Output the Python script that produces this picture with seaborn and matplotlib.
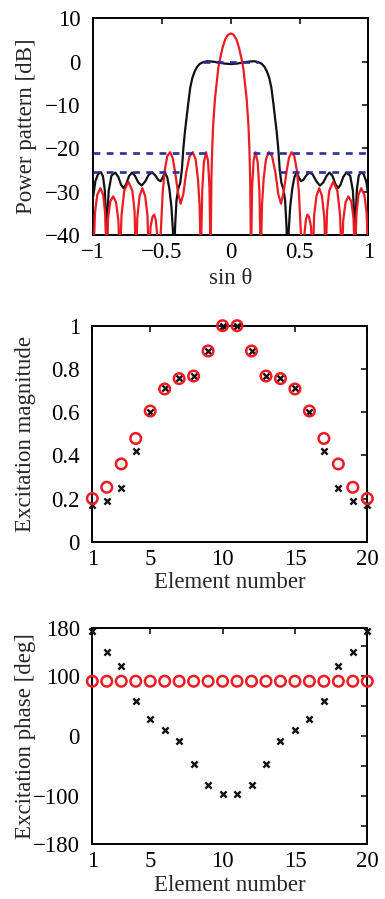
import numpy as np
import pandas as pd
import matplotlib
matplotlib.use("Agg")
import matplotlib.pyplot as plt
import seaborn as sns

# ---------------- data ----------------
# Panel 1: power pattern (sin theta, dB)
black_sin = [-1.000, -0.985, -0.965, -0.945, -0.930, -0.917, -0.909, -0.903, -0.897, -0.888,
             -0.868, -0.840, -0.818, -0.798, -0.780, -0.760, -0.740, -0.718, -0.698, -0.672,
             -0.648, -0.622, -0.595, -0.570, -0.548, -0.527, -0.510, -0.495, -0.480, -0.463,
             -0.447, -0.432, -0.421, -0.413, -0.405, -0.395, -0.382, -0.368, -0.356, -0.345,
             -0.333, -0.320, -0.309, -0.295, -0.280, -0.262, -0.245, -0.225, -0.200, -0.170,
             -0.130, -0.090, -0.045, 0.000,
             0.045, 0.090, 0.130, 0.170, 0.200, 0.225, 0.245, 0.262, 0.280, 0.295,
             0.309, 0.320, 0.333, 0.345, 0.356, 0.368, 0.382, 0.395, 0.405, 0.413,
             0.421, 0.432, 0.447, 0.463, 0.480, 0.495, 0.510, 0.527, 0.548, 0.570,
             0.595, 0.622, 0.648, 0.672, 0.698, 0.718, 0.740, 0.760, 0.780, 0.798,
             0.818, 0.840, 0.868, 0.888, 0.897, 0.903, 0.909, 0.917, 0.930, 0.945,
             0.965, 0.985, 1.000]
black_db = [-31.0, -27.6, -25.9, -25.5, -26.4, -29.5, -35.0, -46.0, -35.0, -29.8,
            -26.3, -25.6, -26.6, -28.4, -29.2, -28.2, -26.4, -25.6, -26.3, -27.9,
            -28.6, -27.6, -26.0, -25.6, -26.3, -27.3, -27.6, -26.7, -25.6, -26.6,
            -29.3, -33.5, -39.0, -47.0, -38.0, -32.0, -29.3, -28.0, -25.0, -20.0,
            -16.0, -12.5, -9.5, -6.0, -3.8, -2.2, -1.2, -0.5, -0.1, 0.1,
            0.0, -0.2, -0.45, -0.55,
            -0.45, -0.2, 0.0, 0.1, -0.1, -0.5, -1.2, -2.2, -3.8, -6.0,
            -9.5, -12.5, -16.0, -20.0, -25.0, -28.0, -29.3, -32.0, -38.0, -47.0,
            -39.0, -33.5, -29.3, -26.6, -25.6, -26.7, -27.6, -27.3, -26.3, -25.6,
            -26.0, -27.6, -28.6, -27.9, -26.3, -25.6, -26.4, -28.2, -29.2, -28.4,
            -26.6, -25.6, -26.3, -29.8, -35.0, -46.0, -35.0, -29.5, -26.4, -25.5,
            -25.9, -27.6, -31.0]

red_sin = [-1.000, -0.988, -0.972, -0.948, -0.928, -0.914, -0.903, -0.892, -0.876, -0.855,
           -0.835, -0.818, -0.806, -0.795, -0.775, -0.745, -0.716, -0.700, -0.690, -0.680,
           -0.663, -0.643, -0.623, -0.606, -0.596, -0.583, -0.569, -0.557, -0.546, -0.535,
           -0.522, -0.508, -0.495, -0.480, -0.462, -0.442, -0.423, -0.405, -0.385, -0.365,
           -0.345, -0.325, -0.300, -0.277, -0.256, -0.239, -0.227, -0.218, -0.208, -0.196,
           -0.180, -0.166, -0.155, -0.147, -0.141, -0.135, -0.128, -0.115, -0.091, -0.079,
           -0.060, -0.040, -0.020, 0.000,
           0.020, 0.040, 0.060, 0.079, 0.091, 0.115, 0.128, 0.135, 0.141, 0.147,
           0.155, 0.166, 0.180, 0.196, 0.208, 0.218, 0.227, 0.239, 0.256, 0.277,
           0.300, 0.325, 0.345, 0.365, 0.385, 0.405, 0.423, 0.442, 0.462, 0.480,
           0.495, 0.508, 0.522, 0.535, 0.546, 0.557, 0.569, 0.583, 0.596, 0.606,
           0.623, 0.643, 0.663, 0.680, 0.690, 0.700, 0.716, 0.745, 0.775, 0.795,
           0.806, 0.818, 0.835, 0.855, 0.876, 0.892, 0.903, 0.914, 0.928, 0.948,
           0.972, 0.988, 1.000]
red_db = [-46.0, -35.0, -30.8, -29.2, -30.8, -35.0, -46.0, -36.0, -32.2, -31.1,
          -32.4, -36.5, -46.0, -35.5, -29.8, -27.7, -29.8, -34.5, -46.0, -36.0,
          -31.0, -29.2, -31.0, -35.5, -46.0, -38.0, -35.8, -35.3, -36.5, -40.0,
          -46.0, -38.5, -30.0, -25.0, -21.8, -20.9, -22.2, -25.5, -30.0, -32.8,
          -30.5, -25.7, -21.8, -20.9, -22.5, -27.0, -33.0, -46.0, -30.0, -23.3,
          -20.9, -22.8, -29.0, -46.0, -27.0, -19.8, -14.5, -8.5, -1.5, 0.5,
          3.2, 5.2, 6.2, 6.5,
          6.2, 5.2, 3.2, 0.5, -1.5, -8.5, -14.5, -19.8, -27.0, -46.0,
          -29.0, -22.8, -20.9, -23.3, -30.0, -46.0, -33.0, -27.0, -22.5, -20.9,
          -21.8, -25.7, -30.5, -32.8, -30.0, -25.5, -22.2, -20.9, -21.8, -25.0,
          -30.0, -38.5, -46.0, -40.0, -36.5, -35.3, -35.8, -38.0, -46.0, -35.5,
          -31.0, -29.2, -31.0, -36.0, -46.0, -34.5, -29.8, -27.7, -29.8, -35.5,
          -46.0, -36.5, -32.4, -31.1, -32.2, -36.0, -46.0, -35.0, -30.8, -29.2,
          -30.8, -35.0, -46.0]

# mask (dashed) levels and their extents
mask_level = [0.0, -21.0, -21.0, -25.5, -25.5]
mask_start = [-0.20, -1.00, 0.16, -1.00, 0.35]
mask_stop = [0.20, -0.16, 1.00, -0.35, 1.00]

# Panels 2 and 3: excitations of 20 elements
elements = list(range(1, 21))
mag_red = [0.20, 0.252, 0.36, 0.478, 0.605, 0.707, 0.755, 0.767, 0.883, 1.0,
           1.0, 0.883, 0.767, 0.755, 0.707, 0.605, 0.478, 0.36, 0.252, 0.20]
mag_black = [0.17, 0.19, 0.25, 0.42, 0.60, 0.71, 0.756, 0.767, 0.883, 1.0,
             1.0, 0.883, 0.767, 0.756, 0.71, 0.60, 0.42, 0.25, 0.19, 0.17]
phase_red = [91.0] * 20
phase_black = [174, 139, 116, 59, 28, 10, -9, -46, -82, -96,
               -96, -82, -46, -9, 10, 28, 59, 116, 139, 174]

# ticks
p1_xticks = [-1, -0.5, 0, 0.5, 1]
p1_xticklabels = ["\u22121", "\u22120.5", "0", "0.5", "1"]
p1_yticks = [-40, -30, -20, -10, 0, 10]
p1_yticklabels = ["\u221240", "\u221230", "\u221220", "\u221210", "0", "10"]
el_ticks = [1, 5, 10, 15, 20]
p2_yticks = [0, 0.2, 0.4, 0.6, 0.8, 1.0]
p2_yticklabels = ["0", "0.2", "0.4", "0.6", "0.8", "1"]
p3_yticks = [-180, -150, -100, -50, 0, 50, 100, 150, 180]
p3_yticklabels = ["\u2212180", "", "\u2212100", "", "0", "", "100", "", "180"]

# ---------------- style ----------------
sns.set_style("white")
plt.rcParams["font.family"] = ["Liberation Serif", "DejaVu Serif"]
plt.rcParams["axes.unicode_minus"] = True
FS = 16.5
RED = "#ec1c24"
BLUE = "#2b2f94"

W, H = 385, 899
fig = plt.figure(figsize=(W / 100, H / 100), dpi=100)


def add_ax(l, t, r, b):
    return fig.add_axes([l / W, 1 - b / H, (r - l) / W, (b - t) / H])


def style(ax):
    for sp in ax.spines.values():
        sp.set_visible(True)
        sp.set_color("black")
        sp.set_linewidth(1.4)
    ax.tick_params(direction="in", length=4.5, width=1.1, top=True, right=True,
                   labelsize=FS, colors="black", pad=5)
    ax.tick_params(axis="y", pad=9)


# Panel 1
ax1 = add_ax(93.3, 18.3, 368.3, 235.0)
sns.lineplot(x=black_sin, y=black_db, ax=ax1, color="#111111", linewidth=1.6,
             estimator=None, sort=False, zorder=3)
sns.lineplot(x=red_sin, y=red_db, ax=ax1, color=RED, linewidth=1.6,
             estimator=None, sort=False, zorder=4)
for lv, a, b in zip(mask_level, mask_start, mask_stop):
    sns.lineplot(x=[a, b], y=[lv, lv], ax=ax1, color=BLUE, linewidth=1.9,
                 linestyle=(0, (2.6, 2.4)), estimator=None, sort=False, zorder=5)
ax1.set_xlim(-1, 1)
ax1.set_ylim(-40, 10)
ax1.set_xticks(p1_xticks)
ax1.set_xticklabels(p1_xticklabels)
ax1.set_yticks(p1_yticks)
ax1.set_yticklabels(p1_yticklabels)
ax1.set_xlabel("sin \u03b8", fontsize=FS)
ax1.set_ylabel("Power pattern [dB]", fontsize=FS)
style(ax1)

# Panel 2
ax2 = add_ax(92.3, 325.7, 367.3, 541.7)
sns.scatterplot(x=elements, y=mag_black, ax=ax2, marker="x", color="#111111",
                s=20, linewidth=1.7, clip_on=False, zorder=3)
sns.scatterplot(x=elements, y=mag_red, ax=ax2, marker="o", facecolor="none",
                edgecolor=RED, s=58, linewidth=1.8, clip_on=False, zorder=4)
ax2.set_xlim(1, 20)
ax2.set_ylim(0, 1)
ax2.set_xticks(el_ticks)
ax2.set_yticks(p2_yticks)
ax2.set_yticklabels(p2_yticklabels)
ax2.set_xlabel("Element number", fontsize=FS)
ax2.set_ylabel("Excitation magnitude", fontsize=FS)
style(ax2)

# Panel 3
ax3 = add_ax(92.3, 627.7, 367.3, 844.3)
sns.scatterplot(x=elements, y=phase_black, ax=ax3, marker="x", color="#111111",
                s=20, linewidth=1.7, clip_on=False, zorder=3)
sns.scatterplot(x=elements, y=phase_red, ax=ax3, marker="o", facecolor="none",
                edgecolor=RED, s=58, linewidth=1.8, clip_on=False, zorder=4)
ax3.set_xlim(1, 20)
ax3.set_ylim(-180, 180)
ax3.set_xticks(el_ticks)
ax3.set_yticks(p3_yticks)
ax3.set_yticklabels(p3_yticklabels)
ax3.set_xlabel("Element number", fontsize=FS)
ax3.set_ylabel("Excitation phase [deg]", fontsize=FS)
style(ax3)

for ax in (ax1, ax2, ax3):
    ax.yaxis.set_label_coords(-0.205, 0.5)
    ax.xaxis.set_label_coords(0.5, -0.14)
    ax.set_facecolor("white")
ax1.xaxis.set_label_coords(0.5, -0.15)

fig.savefig("out.png", dpi=100, facecolor="white")
